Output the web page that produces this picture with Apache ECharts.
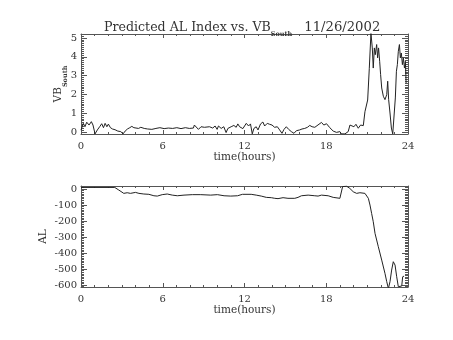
<!DOCTYPE html>
<html>
<head>
<meta charset="utf-8">
<script src="https://cdn.jsdelivr.net/npm/echarts@6/dist/echarts.min.js"></script>
<style>
html, body { margin: 0; padding: 0; background: #fff; }
#main { width: 453px; height: 340px; }
</style>
</head>
<body>
<div id="main"></div>
<script>
// VB South (top panel), hours / value
var vbTime = [0, 0.17, 0.29, 0.42, 0.59, 0.76, 0.88, 1.03, 1.2, 1.37, 1.52, 1.65, 1.77, 1.9, 2.01, 2.16,
	2.31, 2.5, 2.7, 2.92, 3.09, 3.24, 3.41, 3.58, 3.73, 3.88, 4.02, 4.22, 4.39, 4.64, 4.89, 5.2,
	5.5, 5.79, 6.1, 6.41, 6.73, 7.03, 7.34, 7.66, 7.95, 8.25, 8.32, 8.44, 8.62, 8.81, 9.06, 9.43,
	9.67, 9.84, 9.99, 10.09, 10.29, 10.48, 10.65, 10.78, 11.02, 11.22, 11.39, 11.51, 11.64, 11.88, 12.13, 12.3,
	12.44, 12.57, 12.69, 12.86, 12.99, 13.18, 13.35, 13.48, 13.67, 13.84, 14.02, 14.21, 14.41, 14.58, 14.75, 14.9,
	15.07, 15.24, 15.44, 15.63, 15.81, 16.05, 16.22, 16.42, 16.62, 16.79, 16.96, 17.16, 17.28, 17.65, 17.82, 18.02,
	18.26, 18.51, 18.75, 19.0, 19.12, 19.37, 19.61, 19.74, 19.86, 20.03, 20.18, 20.35, 20.52, 20.72, 20.84, 20.96,
	21.04, 21.16, 21.28, 21.38, 21.45, 21.53, 21.6, 21.7, 21.77, 21.84, 21.92, 21.99, 22.07, 22.19, 22.31, 22.44,
	22.51, 22.58, 22.68, 22.78, 22.88, 22.98, 23.07, 23.15, 23.22, 23.29, 23.37, 23.44, 23.51, 23.59, 23.66, 23.74,
	23.81, 23.86];
var vbValue = [0.1, 0.46, 0.28, 0.52, 0.37, 0.55, 0.37, -0.1, 0.11, 0.28, 0.44, 0.23, 0.46, 0.28, 0.42, 0.23,
	0.16, 0.12, 0.05, 0.02, -0.1, 0.05, 0.16, 0.23, 0.3, 0.23, 0.28, 0.19, 0.25, 0.19, 0.16, 0.14,
	0.19, 0.23, 0.18, 0.21, 0.19, 0.23, 0.18, 0.23, 0.19, 0.21, 0.37, 0.43, 0.14, 0.28, 0.25, 0.28,
	0.21, 0.32, 0.14, 0.32, 0.19, 0.28, -0.03, 0.19, 0.28, 0.35, 0.25, 0.43, 0.28, 0.18, 0.46, 0.32,
	0.43, -0.1, 0.19, 0.28, 0.11, 0.43, 0.53, 0.32, 0.46, 0.41, 0.37, 0.25, 0.28, 0.11, -0.07, 0.14,
	0.28, 0.14, 0.02, -0.07, 0.07, 0.11, 0.16, 0.19, 0.25, 0.35, 0.28, 0.25, 0.28, 0.51, 0.37, 0.44,
	0.23, 0.05, -0.02, 0.02, -0.1, -0.1, 0.02, 0.37, 0.46, 0.28, 0.41, 0.2, 0.37, 0.34, 1.08, 0.99,
	1.7, 3.39, 5.25, 4.47, 3.4, 4.47, 4.11, 4.65, 3.94, 4.47, 3.76, 3.05, 2.34, 1.9, 1.72, 1.99,
	2.7, 1.72, 1.01, 0.21, -0.1, -0.1, 1.81, 3.23, 3.58, 4.29, 4.65, 3.94, 4.2, 3.58, 3.94, 3.4,
	3.76, 2.6];

// AL index (bottom panel), hours / nT
var alTime = [0, 2.48, 2.77, 3.14, 3.39, 3.63, 4.0, 4.25, 4.61, 4.98, 5.35, 5.6, 5.96, 6.33, 6.7, 7.07,
	7.56, 8.17, 8.79, 9.52, 10.01, 10.5, 10.99, 11.49, 11.85, 12.49, 12.86, 13.23, 13.6, 13.97, 14.22, 14.33,
	14.46, 14.83, 15.19, 15.69, 15.93, 16.18, 16.67, 17.16, 17.4, 17.65, 18.14, 18.51, 19.0, 19.12, 19.2, 19.49,
	19.73, 19.98, 20.23, 20.47, 20.84, 21.09, 21.21, 21.33, 21.45, 21.58, 21.82, 22.07, 22.31, 22.44, 22.56, 22.68,
	22.8, 22.92, 23.05, 23.17, 23.29, 23.41, 23.54, 23.61, 23.71];
var alValue = [10, 10, -6, -27, -23, -27, -21, -27, -31, -33, -42, -44, -35, -31, -38, -42,
	-38, -35, -35, -38, -35, -42, -44, -42, -33, -33, -38, -44, -52, -54, -58, -69,
	-60, -54, -58, -58, -52, -42, -38, -42, -44, -38, -42, -52, -58, -63, 15, 18,
	4, -17, -27, -23, -27, -58, -100, -152, -204, -277, -360, -444, -527, -579, -621, -579,
	-506, -454, -475, -548, -610, -621, -606, -548, -544];

var hourTicks = [0, 6, 12, 18, 24];
var vbTicks = [0, 1, 2, 3, 4, 5];
var alTicks = [0, -100, -200, -300, -400, -500, -600];
var vbRange = [-0.106, 5.21];
var alRange = [-612, 19];

var vbMinor = [];
for (var i = -1; i <= 52; i++) vbMinor.push(i / 10);
var alMinor = [];
for (var k = -61; k <= 1; k++) alMinor.push(k * 10);

function zip(a, b) {
	var res = [];
	for (var i = 0; i < a.length; i++) res.push([a[i], b[i]]);
	return res;
}

var font = 'DejaVu Serif';
var txt = '#333';
var axisCol = '#555';

function xAx(grid, pos, withLabel) {
	return {
		type: 'value', gridIndex: grid, position: pos,
		min: 0, max: 24, interval: 6,
		name: withLabel ? 'time(hours)' : '',
		nameLocation: 'middle', nameGap: 17,
		nameTextStyle: { fontFamily: font, fontSize: 10.5, color: txt },
		axisLine: { show: true, onZero: false, lineStyle: { color: axisCol, width: 1 } },
		axisTick: { show: true, inside: true, length: 4, lineStyle: { color: axisCol } },
		minorTick: { show: true, splitNumber: 6, length: 2, lineStyle: { color: axisCol } },
		axisLabel: { show: withLabel, margin: 7, fontFamily: font, fontSize: 10, color: txt },
		splitLine: { show: false }
	};
}

function yAx(grid, pos, range, ticks, major, withLabel, name) {
	return {
		type: 'value', gridIndex: grid, position: pos,
		min: range[0], max: range[1],
		name: name || '', nameLocation: 'middle', nameRotate: 90,
		nameGap: grid === 0 ? 12 : 32,
		nameMoveOverlap: false,
		nameTextStyle: {
			fontFamily: font, fontSize: 10.5, color: txt,
			rich: {
				m: { fontFamily: font, fontSize: 10.5, color: txt, lineHeight: 16, verticalAlign: 'top' },
				s: { fontFamily: font, fontSize: 6.5, color: txt, fontWeight: 'bold', lineHeight: 16, verticalAlign: 'bottom' }
			}
		},
		axisLine: { show: major, onZero: false, lineStyle: { color: axisCol, width: 1 } },
		axisTick: { show: true, inside: true, length: major ? 6 : 3, customValues: ticks, lineStyle: { color: axisCol } },
		axisLabel: { show: withLabel, margin: 4, customValues: ticks, fontFamily: font, fontSize: 10, color: txt },
		splitLine: { show: false }
	};
}

var chart = echarts.init(document.getElementById('main'));
chart.setOption({
	animation: false,
	backgroundColor: '#fff',
	title: {
		text: '{m|Predicted AL Index vs. VB}{s|South}{m|   }{d|11/26/2002}',
		left: 99, top: 16,
		textStyle: {
			fontWeight: 'normal',
			rich: {
				m: { fontFamily: font, fontSize: 12.6, fontWeight: 'normal', color: txt, lineHeight: 17, verticalAlign: 'top' },
				d: { fontFamily: font, fontSize: 13.2, fontWeight: 'normal', color: txt, lineHeight: 17, verticalAlign: 'top' },
				s: { fontFamily: font, fontSize: 6.5, color: txt, fontWeight: 'bold', lineHeight: 17, verticalAlign: 'bottom' }
			}
		}
	},
	grid: [
		{ left: 81, top: 34, width: 327, height: 100 },
		{ left: 81, top: 186, width: 327, height: 101 }
	],
	xAxis: [
		xAx(0, 'bottom', true), xAx(0, 'top', false),
		xAx(1, 'bottom', true), xAx(1, 'top', false)
	],
	yAxis: [
		yAx(0, 'left', vbRange, vbTicks, true, true, '{m|VB}{s|South}'),
		yAx(0, 'left', vbRange, vbMinor, false, false),
		yAx(0, 'right', vbRange, vbTicks, true, false),
		yAx(0, 'right', vbRange, vbMinor, false, false),
		yAx(1, 'left', alRange, alTicks, true, true, 'AL'),
		yAx(1, 'left', alRange, alMinor, false, false),
		yAx(1, 'right', alRange, alTicks, true, false),
		yAx(1, 'right', alRange, alMinor, false, false)
	],
	series: [
		{
			type: 'line', xAxisIndex: 0, yAxisIndex: 0,
			data: zip(vbTime, vbValue),
			showSymbol: false, clip: true,
			lineStyle: { color: '#222', width: 1 }
		},
		{
			type: 'line', xAxisIndex: 2, yAxisIndex: 4,
			data: zip(alTime, alValue),
			showSymbol: false, clip: true,
			lineStyle: { color: '#222', width: 1 }
		}
	]
});
</script>
</body>
</html>
